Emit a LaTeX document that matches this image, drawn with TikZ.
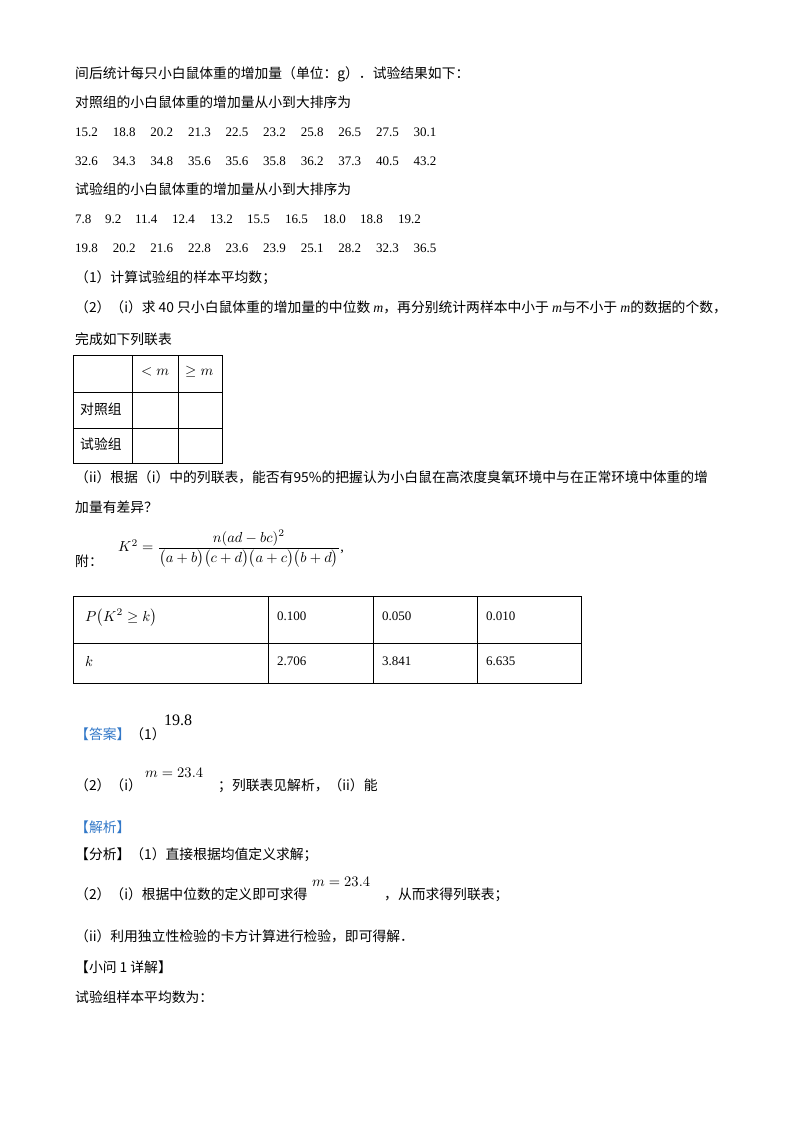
\documentclass[tikz,border=0pt]{standalone}
\usepackage{fontspec}
\usepackage{graphicx}
\usepackage{amsmath,amssymb}
\setmainfont{Liberation Serif}
\newfontfamily\cjk{Noto Sans CJK SC}
\definecolor{tagblue}{RGB}{50,120,200}
\tikzset{
  tx/.style={anchor=base west,inner sep=0pt,font=\cjk\fontsize{13.8}{15}\selectfont},
  nm/.style={anchor=base west,inner sep=0pt,font=\fontsize{13}{14}\selectfont},
  mth/.style={anchor=base west,inner sep=0pt},
  big/.style={anchor=base west,inner sep=0pt,font=\fontsize{16}{18}\selectfont},
  grid/.style={line width=1pt}
}
\newcommand{\tg}[1]{\textcolor{tagblue}{#1}}
\newcommand{\im}{\textit{\fontspec{Liberation Serif}m}}
\newcommand{\sm}[1]{\scalebox{1.45}{#1}}
\begin{document}
\begin{tikzpicture}[x=1pt,y=-1pt]
\useasboundingbox[fill=white] (0,0) rectangle (800,1132);
\node[tx] (l1) at (75,78) {间后统计每只小白鼠体重的增加量（单位：g）．试验结果如下：};
\node[tx] (l2) at (75,107) {对照组的小白鼠体重的增加量从小到大排序为};
\foreach \v [count=\i] in {15.2,18.8,20.2,21.3,22.5,23.2,25.8,26.5,27.5,30.1}
  \node[nm] (a\i) at ({75+37.6*(\i-1)},136) {\v};
\foreach \v [count=\i] in {32.6,34.3,34.8,35.6,35.6,35.8,36.2,37.3,40.5,43.2}
  \node[nm] (b\i) at ({75+37.6*(\i-1)},165) {\v};
\node[tx] (l3) at (75,194) {试验组的小白鼠体重的增加量从小到大排序为};
\foreach \v/\x [count=\i] in {7.8/75,9.2/105,11.4/135,12.4/172,13.2/210,15.5/247,16.5/285,18.0/323,18.8/360,19.2/398}
  \node[nm] (c\i) at (\x,223) {\v};
\foreach \v [count=\i] in {19.8,20.2,21.6,22.8,23.6,23.9,25.1,28.2,32.3,36.5}
  \node[nm] (d\i) at ({75+37.6*(\i-1)},252) {\v};
\node[tx] (l4) at (75,282) {（1）计算试验组的样本平均数；};
\node[tx] (l5) at (75,312) {（2）（i）求 40 只小白鼠体重的增加量的中位数 \im，再分别统计两样本中小于 \im 与不小于 \im 的数据的个数，};
\node[tx] (l6) at (75,344) {完成如下列联表};
% table 1
\draw[grid] (73,355) rectangle (222,463);
\draw[grid] (132,355) -- (132,463) (178,355) -- (178,463) (73,392) -- (222,392) (73,428) -- (222,428);
\node[mth] (t1) at (141,375) {\sm{$<m$}};
\node[mth] (t2) at (185,375) {\sm{$\geq m$}};
\node[tx] (t3) at (80,414) {对照组};
\node[tx] (t4) at (80,449) {试验组};
\node[tx] (l7) at (75,482) {（ii）根据（i）中的列联表，能否有95\%的把握认为小白鼠在高浓度臭氧环境中与在正常环境中体重的增};
\node[tx] (l8) at (75,512) {加量有差异？};
\node[tx] (l9) at (75,566) {附：};
\node[mth,anchor=west] (f) at (118,549) {\sm{$K^2=\dfrac{n(ad-bc)^2}{\bigl(a+b\bigr)\bigl(c+d\bigr)\bigl(a+c\bigr)\bigl(b+d\bigr)}$,}};
% table 2
\draw[grid] (73,596) rectangle (581,683);
\draw[grid] (268,596) -- (268,683) (373,596) -- (373,683) (477,596) -- (477,683) (73,643) -- (581,643);
\node[mth] (p) at (85,621) {\sm{$P\bigl(K^2\geq k\bigr)$}};
\node[nm] (p1) at (277,620) {0.100};
\node[nm] (p2) at (382,620) {0.050};
\node[nm] (p3) at (486,620) {0.010};
\node[mth] (k) at (85,666) {\sm{$k$}};
\node[nm] (k1) at (277,665) {2.706};
\node[nm] (k2) at (382,665) {3.841};
\node[nm] (k3) at (486,665) {6.635};
% answers
\node[tx] (ans) at (75,739) {\tg{【答案】}（1）};
\node[big] (ans1) at (164,725) {19.8};
\node[tx] (ans2) at (75,790) {（2）（i）};
\node[mth] (ans3) at (145,777) {\sm{$m=23.4$}};
\node[tx] (ans4) at (218,790) {；列联表见解析，（ii）能};
\node[tx] (jx) at (75,832) {\tg{【解析】}};
\node[tx] (fx) at (75,859) {【分析】（1）直接根据均值定义求解；};
\node[tx] (fx2) at (75,899) {（2）（i）根据中位数的定义即可求得};
\node[mth] (fx3) at (312,886) {\sm{$m=23.4$}};
\node[tx] (fx4) at (384,899) {，从而求得列联表；};
\node[tx] (fx5) at (75,941) {（ii）利用独立性检验的卡方计算进行检验，即可得解．};
\node[tx] (xw) at (75,972) {【小问 1 详解】};
\node[tx] (sy) at (75,1002) {试验组样本平均数为：};
\end{tikzpicture}
\end{document}
